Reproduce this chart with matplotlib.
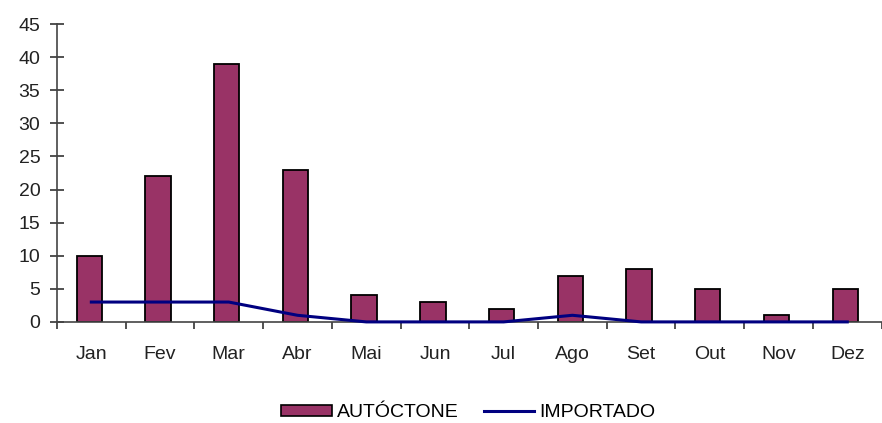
import numpy as np
import matplotlib.pyplot as plt
from matplotlib.patches import Patch
from matplotlib.lines import Line2D

plt.rcParams['font.family'] = ['Liberation Sans', 'DejaVu Sans']

meses = ['Jan', 'Fev', 'Mar', 'Abr', 'Mai', 'Jun', 'Jul', 'Ago', 'Set', 'Out', 'Nov', 'Dez']
autoctone = [10, 22, 39, 23, 4, 3, 2, 7, 8, 5, 1, 5]
importado = [3, 3, 3, 1, 0, 0, 0, 1, 0, 0, 0, 0]

bar_color = '#993366'
line_color = '#000080'
fs = 14

fig = plt.figure(figsize=(8.82, 4.23), dpi=100)
ax = fig.add_axes([0.0646, 0.239, 0.935, 0.704])

x = np.arange(len(meses))
ax.bar(x - 0.03, autoctone, width=0.37, color=bar_color, edgecolor='black', linewidth=1.3, zorder=2)
ax.plot(x, importado, color=line_color, linewidth=2.2, zorder=3, clip_on=False)

ax.set_xlim(-0.5, 11.5)
ax.set_ylim(0, 45)
ax.set_yticks(range(0, 50, 5))

# categorias no centro, marcas entre elas
ax.set_xticks(x)
ax.set_xticklabels(meses)
ax.set_xticks(np.arange(-0.5, 12, 1), minor=True)
ax.tick_params(axis='x', which='major', length=0, pad=17, labelsize=fs, colors='#222222')
ax.tick_params(axis='x', which='minor', length=5, width=1.2, direction='out', color='#333333')
ax.tick_params(axis='y', length=10, width=1.2, direction='inout', pad=7, labelsize=fs,
               color='#333333', labelcolor='#222222')

for s in ['top', 'right']:
    ax.spines[s].set_visible(False)
for s in ['left', 'bottom']:
    ax.spines[s].set_color('#444444')
    ax.spines[s].set_linewidth(1.2)

handles = [Patch(facecolor=bar_color, edgecolor='black', linewidth=1.2),
           Line2D([], [], color=line_color, linewidth=2.2)]
fig.legend(handles, ['AUTÓCTONE', 'IMPORTADO'], loc='center', bbox_to_anchor=(0.531, 0.024),
           ncol=2, frameon=False, fontsize=fs, handlelength=2.6, handleheight=0.55,
           handletextpad=0.25, columnspacing=1.3)

fig.savefig('out.png', dpi=100)
